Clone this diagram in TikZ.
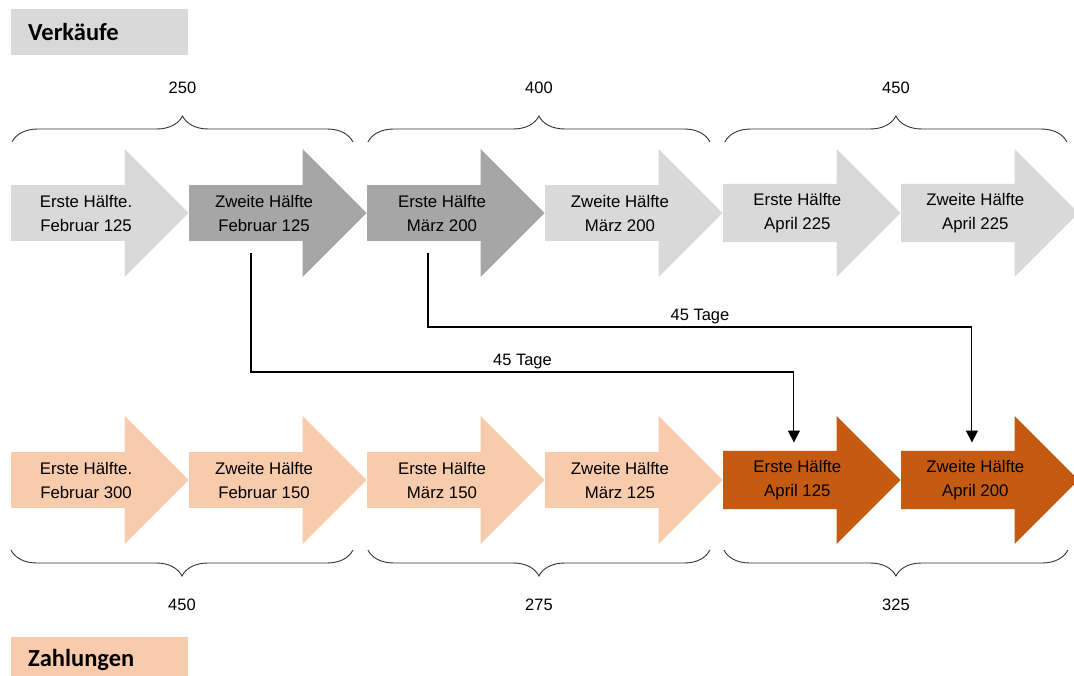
\documentclass[tikz,border=0pt]{standalone}
\usepackage{fontspec}
\setmainfont{Liberation Sans}
\newfontfamily\hdrfont{Carlito}
\usepackage{tikz}
\usetikzlibrary{shapes.arrows, arrows.meta, positioning, calc, decorations.pathreplacing}

\definecolor{grayLight}{HTML}{D9D9D9}
\definecolor{grayDark}{HTML}{A6A6A6}
\definecolor{peach}{HTML}{F8CBAD}
\definecolor{rust}{HTML}{C55A11}

\begin{document}
\begin{tikzpicture}[
			x=1pt, y=-1pt,
			stage/.style={single arrow, draw=none, fill=#1, minimum height=177.5pt, minimum width=128pt, single arrow head extend=26.5pt, inner sep=2pt, align=center, font=\fontsize{16.8}{24}\selectfont},
			header/.style={rectangle, fill=#1, anchor=north west, minimum height=46pt, text width=143pt, inner xsep=17pt, inner ysep=0pt, align=left, font=\hdrfont\bfseries\fontsize{24.5}{28}\selectfont},
			bracket/.style={decorate, decoration={brace, amplitude=26pt}, line width=0.9pt, draw=black!80},
			sum/.style={font=\fontsize{16.5}{20}\selectfont},
			conn/.style={-{Triangle[width=12pt,length=12pt]}, line width=1.1pt},
			lbl/.style={above, inner sep=3pt, font=\fontsize{16.5}{20}\selectfont}
		]
		\useasboundingbox (0,0) rectangle (1074,676);

		% headers
		\node[header=grayLight] (sales) at (11,9) {Verkäufe};
		\node[header=peach] (pay) at (11,637) {Zahlungen};

		% Verkaeufe row
		\node[stage=grayLight, anchor=tail] (t1) at (11,213) {Erste Hälfte.\\Februar 125};
		\node[stage=grayDark, right=0pt of t1.tip, anchor=tail] (t2) {Zweite Hälfte\\Februar 125};
		\node[stage=grayDark, right=0pt of t2.tip, anchor=tail] (t3) {Erste Hälfte\\März 200};
		\node[stage=grayLight, right=0pt of t3.tip, anchor=tail] (t4) {Zweite Hälfte\\März 200};
		\node[stage=grayLight, right=0pt of t4.tip, anchor=tail] (t5) {Erste Hälfte\\April 225};
		\node[stage=grayLight, right=0pt of t5.tip, anchor=tail] (t6) {Zweite Hälfte\\April 225};

		% Zahlungen row
		\node[stage=peach, anchor=tail] (b1) at (11,480) {Erste Hälfte.\\Februar 300};
		\node[stage=peach, right=0pt of b1.tip, anchor=tail] (b2) {Zweite Hälfte\\Februar 150};
		\node[stage=peach, right=0pt of b2.tip, anchor=tail] (b3) {Erste Hälfte\\März 150};
		\node[stage=peach, right=0pt of b3.tip, anchor=tail] (b4) {Zweite Hälfte\\März 125};
		\node[stage=rust, right=0pt of b4.tip, anchor=tail] (b5) {Erste Hälfte\\April 125};
		\node[stage=rust, right=0pt of b5.tip, anchor=tail] (b6) {Zweite Hälfte\\April 200};

		% brackets
		\draw[bracket] ($(t1.tail)+(1,-71)$) -- node[sum, yshift=54pt] (v1) {250} ($(t2.tip)+(-14,-71)$);
		\draw[bracket] ($(t3.tail)+(1,-71)$) -- node[sum, yshift=54pt] (v2) {400} ($(t4.tip)+(-13,-71)$);
		\draw[bracket] ($(t5.tail)+(2,-71)$) -- node[sum, yshift=54pt] (v3) {450} ($(t6.tip)+(-12,-71)$);
		\draw[bracket] ($(b2.tip)+(-14,70)$) -- node[sum, yshift=-55pt] (z1) {450} ($(b1.tail)+(0,70)$);
		\draw[bracket] ($(b4.tip)+(-13,70)$) -- node[sum, yshift=-55pt] (z2) {275} ($(b3.tail)+(1,70)$);
		\draw[bracket] ($(b6.tip)+(-11,70)$) -- node[sum, yshift=-55pt] (z3) {325} ($(b5.tail)+(1,70)$);

		% 45 days
		\coordinate (k1) at ($(b5.tail)+(71,-108)$);
		\coordinate (k2) at ($(b6.tail)+(71,-153)$);
		\draw[conn] ($(t2.tail)+(62,40)$) |- node[lbl, pos=0.75] (d1) {45 Tage} (k1) -- ($(b5.tail)+(71,-37.5)$);
		\draw[conn] ($(t3.tail)+(61,40)$) |- node[lbl, pos=0.75] (d2) {45 Tage} (k2) -- ($(b6.tail)+(71,-37.5)$);

	\end{tikzpicture}
\end{document}
